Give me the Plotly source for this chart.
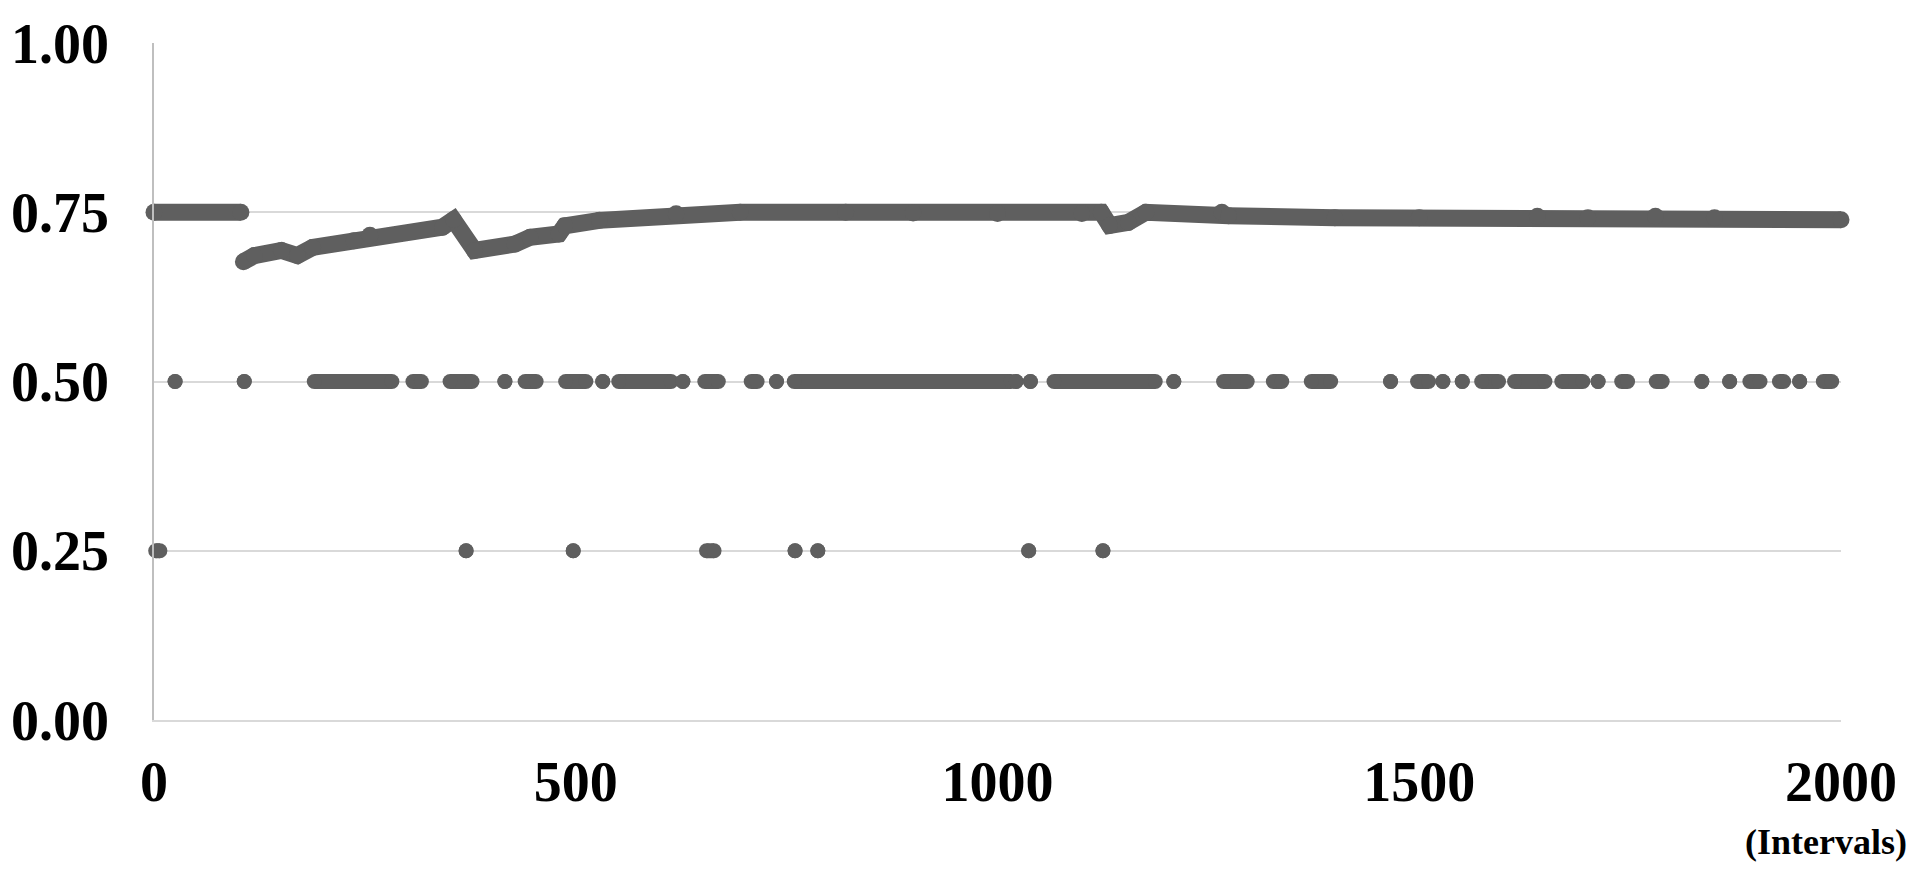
import plotly.graph_objects as go

# main curve, two segments (break at the jump near interval 105)
curve_a_x = [0, 103]
curve_a_y = [0.75, 0.75]
curve_b_x = [106, 119, 151, 170, 188, 237, 256, 342, 355, 380, 428, 446, 480, 487, 528, 619, 695,
             820, 900, 1000, 1100, 1123, 1133, 1155, 1176, 1266, 1274, 1400, 1500, 1640, 1700, 1780, 1850, 2000]
curve_b_y = [0.677, 0.686, 0.6935, 0.686, 0.698, 0.708, 0.716, 0.728, 0.739, 0.6935, 0.703, 0.713, 0.718,
             0.730, 0.738, 0.7476, 0.75, 0.75, 0.749, 0.748, 0.748, 0.75, 0.7304, 0.735, 0.75, 0.75, 0.745,
             0.742, 0.742, 0.744, 0.742, 0.744, 0.742, 0.739]

# runs of dots at 0.50 (start, end interval)
half_level = 0.5
half_runs = [(25, 25), (107, 107), (190, 282), (307, 317), (351, 377), (416, 416), (440, 453), (488, 512),
             (532, 532), (551, 613), (627, 627), (653, 669), (708, 715), (738, 738), (759, 1016), (1022, 1022),
             (1039, 1039), (1067, 1187), (1209, 1209), (1268, 1296), (1327, 1337), (1372, 1395), (1466, 1466),
             (1498, 1511), (1528, 1528), (1551, 1551), (1574, 1594), (1613, 1649), (1669, 1694), (1712, 1712),
             (1740, 1747), (1781, 1788), (1835, 1835), (1868, 1868), (1892, 1904), (1927, 1932), (1951, 1951),
             (1979, 1989)]

# runs of dots at 0.25
quarter_level = 0.25
quarter_runs = [(2, 7), (370, 370), (497, 497), (655, 664), (760, 760), (787, 787), (1037, 1037), (1125, 1125)]

y_ticks = [0, 0.25, 0.5, 0.75, 1.0]
x_ticks = [0, 500, 1000, 1500, 2000]

DOT = "#5f5f5f"


def runs_to_xy(runs, level):
    xs, ys = [], []
    for a, b in runs:
        xs += [a, b, None]
        ys += [level, level, None]
    return xs, ys


fig = go.Figure()
for i, (xs, ys) in enumerate([(curve_a_x, curve_a_y), (curve_b_x, curve_b_y),
                              runs_to_xy(half_runs, half_level), runs_to_xy(quarter_runs, quarter_level)]):
    w = 17 if i < 2 else 15
    fig.add_trace(go.Scatter(x=xs, y=ys, mode="lines+markers", line=dict(color=DOT, width=w),
                             marker=dict(color=DOT, size=w), cliponaxis=False, showlegend=False,
                             connectgaps=False))

font = dict(family="Liberation Serif", size=56, color="black", weight="bold")
fig.update_layout(width=1914, height=873, margin=dict(l=154, r=73, t=43, b=153),
                  paper_bgcolor="white", plot_bgcolor="white", showlegend=False)
fig.update_xaxes(range=[0, 2000], tickvals=x_ticks, showgrid=False, zeroline=False, automargin=False,
                 showline=True, linecolor="#d9d9d9", linewidth=1.5,
                 ticks="outside", ticklen=12, tickcolor="rgba(0,0,0,0)", tickfont=font)
fig.update_yaxes(range=[0, 1], tickvals=y_ticks, tickformat=".2f", showgrid=True, gridcolor="#d9d9d9",
                 gridwidth=1.5, zeroline=False, showline=True, linecolor="#bfbfbf", linewidth=1.5,
                 automargin=False,
                 ticks="outside", ticklen=32, tickcolor="rgba(0,0,0,0)", tickfont=font)
fig.add_annotation(text="(Intervals)", xref="paper", yref="paper", x=1.0403, y=-0.18,
                   xanchor="right", yanchor="middle", showarrow=False,
                   font=dict(family="Liberation Serif", size=36, color="black", weight="bold"))
fig.write_html("out.html", config={"displayModeBar": False},
               post_script="document.body.style.margin='0';")
